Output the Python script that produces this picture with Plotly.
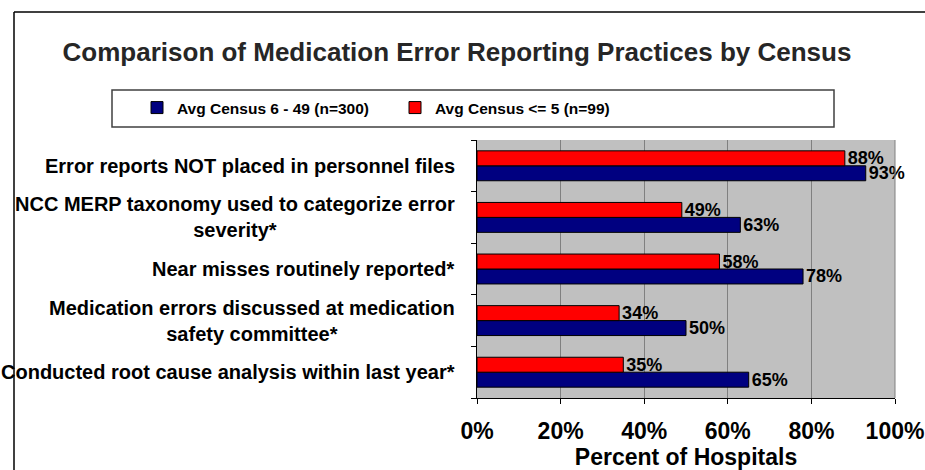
import plotly.graph_objects as go

# categories top to bottom
categories = [
    "Error reports NOT placed in personnel files",
    "NCC MERP taxonomy used to categorize error<br>severity*",
    "Near misses routinely reported*",
    "Medication errors discussed at medication<br>safety committee*",
    "Conducted root cause analysis within last year*",
]
census_6_49 = [93, 63, 78, 50, 65]
census_le_5 = [88, 49, 58, 34, 35]
series_names = ["Avg Census 6 - 49 (n=300)", "Avg Census <= 5 (n=99)"]
x_ticks = [0, 20, 40, 60, 80, 100]
x_tick_labels = ["0%", "20%", "40%", "60%", "80%", "100%"]

W, H = 925, 470
PL, PR, PT, PB = 477, 30, 140, 72
PW, PH = W - PL - PR, H - PT - PB


def px_x(x):
    return (x - PL) / PW


def px_y(y):
    return (H - PB - y) / PH


FONT = "Arial, Liberation Sans, sans-serif"

fig = go.Figure()
for vals, name, color in [
    (census_6_49, series_names[0], "#000080"),
    (census_le_5, series_names[1], "#FF0000"),
]:
    fig.add_trace(go.Bar(
        y=categories, x=vals, orientation="h", name=name,
        marker=dict(color=color, line=dict(color="black", width=1)),
        text=[f"{v}%" for v in vals], textposition="outside",
        constraintext="none",
        textfont=dict(family=FONT, size=18, color="black", weight="bold"),
        cliponaxis=False,
    ))

fig.update_layout(
    width=W, height=H,
    margin=dict(l=PL, r=PR, t=PT, b=PB, autoexpand=False),
    paper_bgcolor="white", plot_bgcolor="#C0C0C0",
    barmode="group", bargap=0.42, bargroupgap=0,
    font=dict(family=FONT, color="black"),
    title=dict(
        text="Comparison of Medication Error Reporting Practices by Census",
        x=457 / W, xanchor="center", y=1 - 52 / H, yanchor="middle",
        font=dict(size=26, color="#262626", weight="bold"),
    ),
    showlegend=True,
    legend=dict(
        orientation="h", x=px_x(137), xanchor="left",
        y=px_y(108), yanchor="middle",
        bgcolor="rgba(0,0,0,0)", borderwidth=0,
        entrywidth=213,
        font=dict(size=15.5, weight="bold"),
    ),
    xaxis=dict(
        range=[0, 100], tickvals=x_ticks, ticktext=x_tick_labels,
        showgrid=True, gridcolor="#808080", gridwidth=1,
        showline=True, linecolor="black", linewidth=1,
        ticks="outside", ticklen=5, tickcolor="black",
        ticklabelstandoff=7,
        tickfont=dict(size=23, weight="bold"),
        title=dict(text="Percent of Hospitals", font=dict(size=23, weight="bold"), standoff=0),
        zeroline=False, fixedrange=True,
    ),
    yaxis=dict(
        categoryorder="array", categoryarray=categories[::-1],
        showticklabels=False, tickson="boundaries",
        showline=True, linecolor="black", linewidth=1,
        ticks="outside", ticklen=5, tickcolor="black",
        showgrid=False, fixedrange=True,
    ),
    shapes=[
        # outer frame (top and left edges; the rest lies outside the crop)
        dict(type="line", xref="paper", yref="paper",
             x0=px_x(14), x1=px_x(925), y0=px_y(12), y1=px_y(12),
             line=dict(color="black", width=1.5), layer="below"),
        dict(type="line", xref="paper", yref="paper",
             x0=px_x(14), x1=px_x(14), y0=px_y(12), y1=px_y(470),
             line=dict(color="black", width=1.5), layer="below"),
        # legend box
        dict(type="rect", xref="paper", yref="paper",
             x0=px_x(112), x1=px_x(834), y0=px_y(127), y1=px_y(90),
             line=dict(color="#404040", width=1.5), fillcolor="white", layer="below"),
        # right edge of plot area
        dict(type="line", xref="paper", yref="paper", x0=1, x1=1, y0=0, y1=1,
             line=dict(color="#808080", width=1)),
    ],
    annotations=[
        dict(text=c, xref="paper", yref="y", x=0, y=c, xanchor="right",
             xshift=-20, align="center", showarrow=False,
             font=dict(size=20, weight="bold"))
        for c in categories
    ],
)

fig.write_html(
    "out.html",
    config={"displayModeBar": False},
    post_script="document.body.style.margin='0';",
)
